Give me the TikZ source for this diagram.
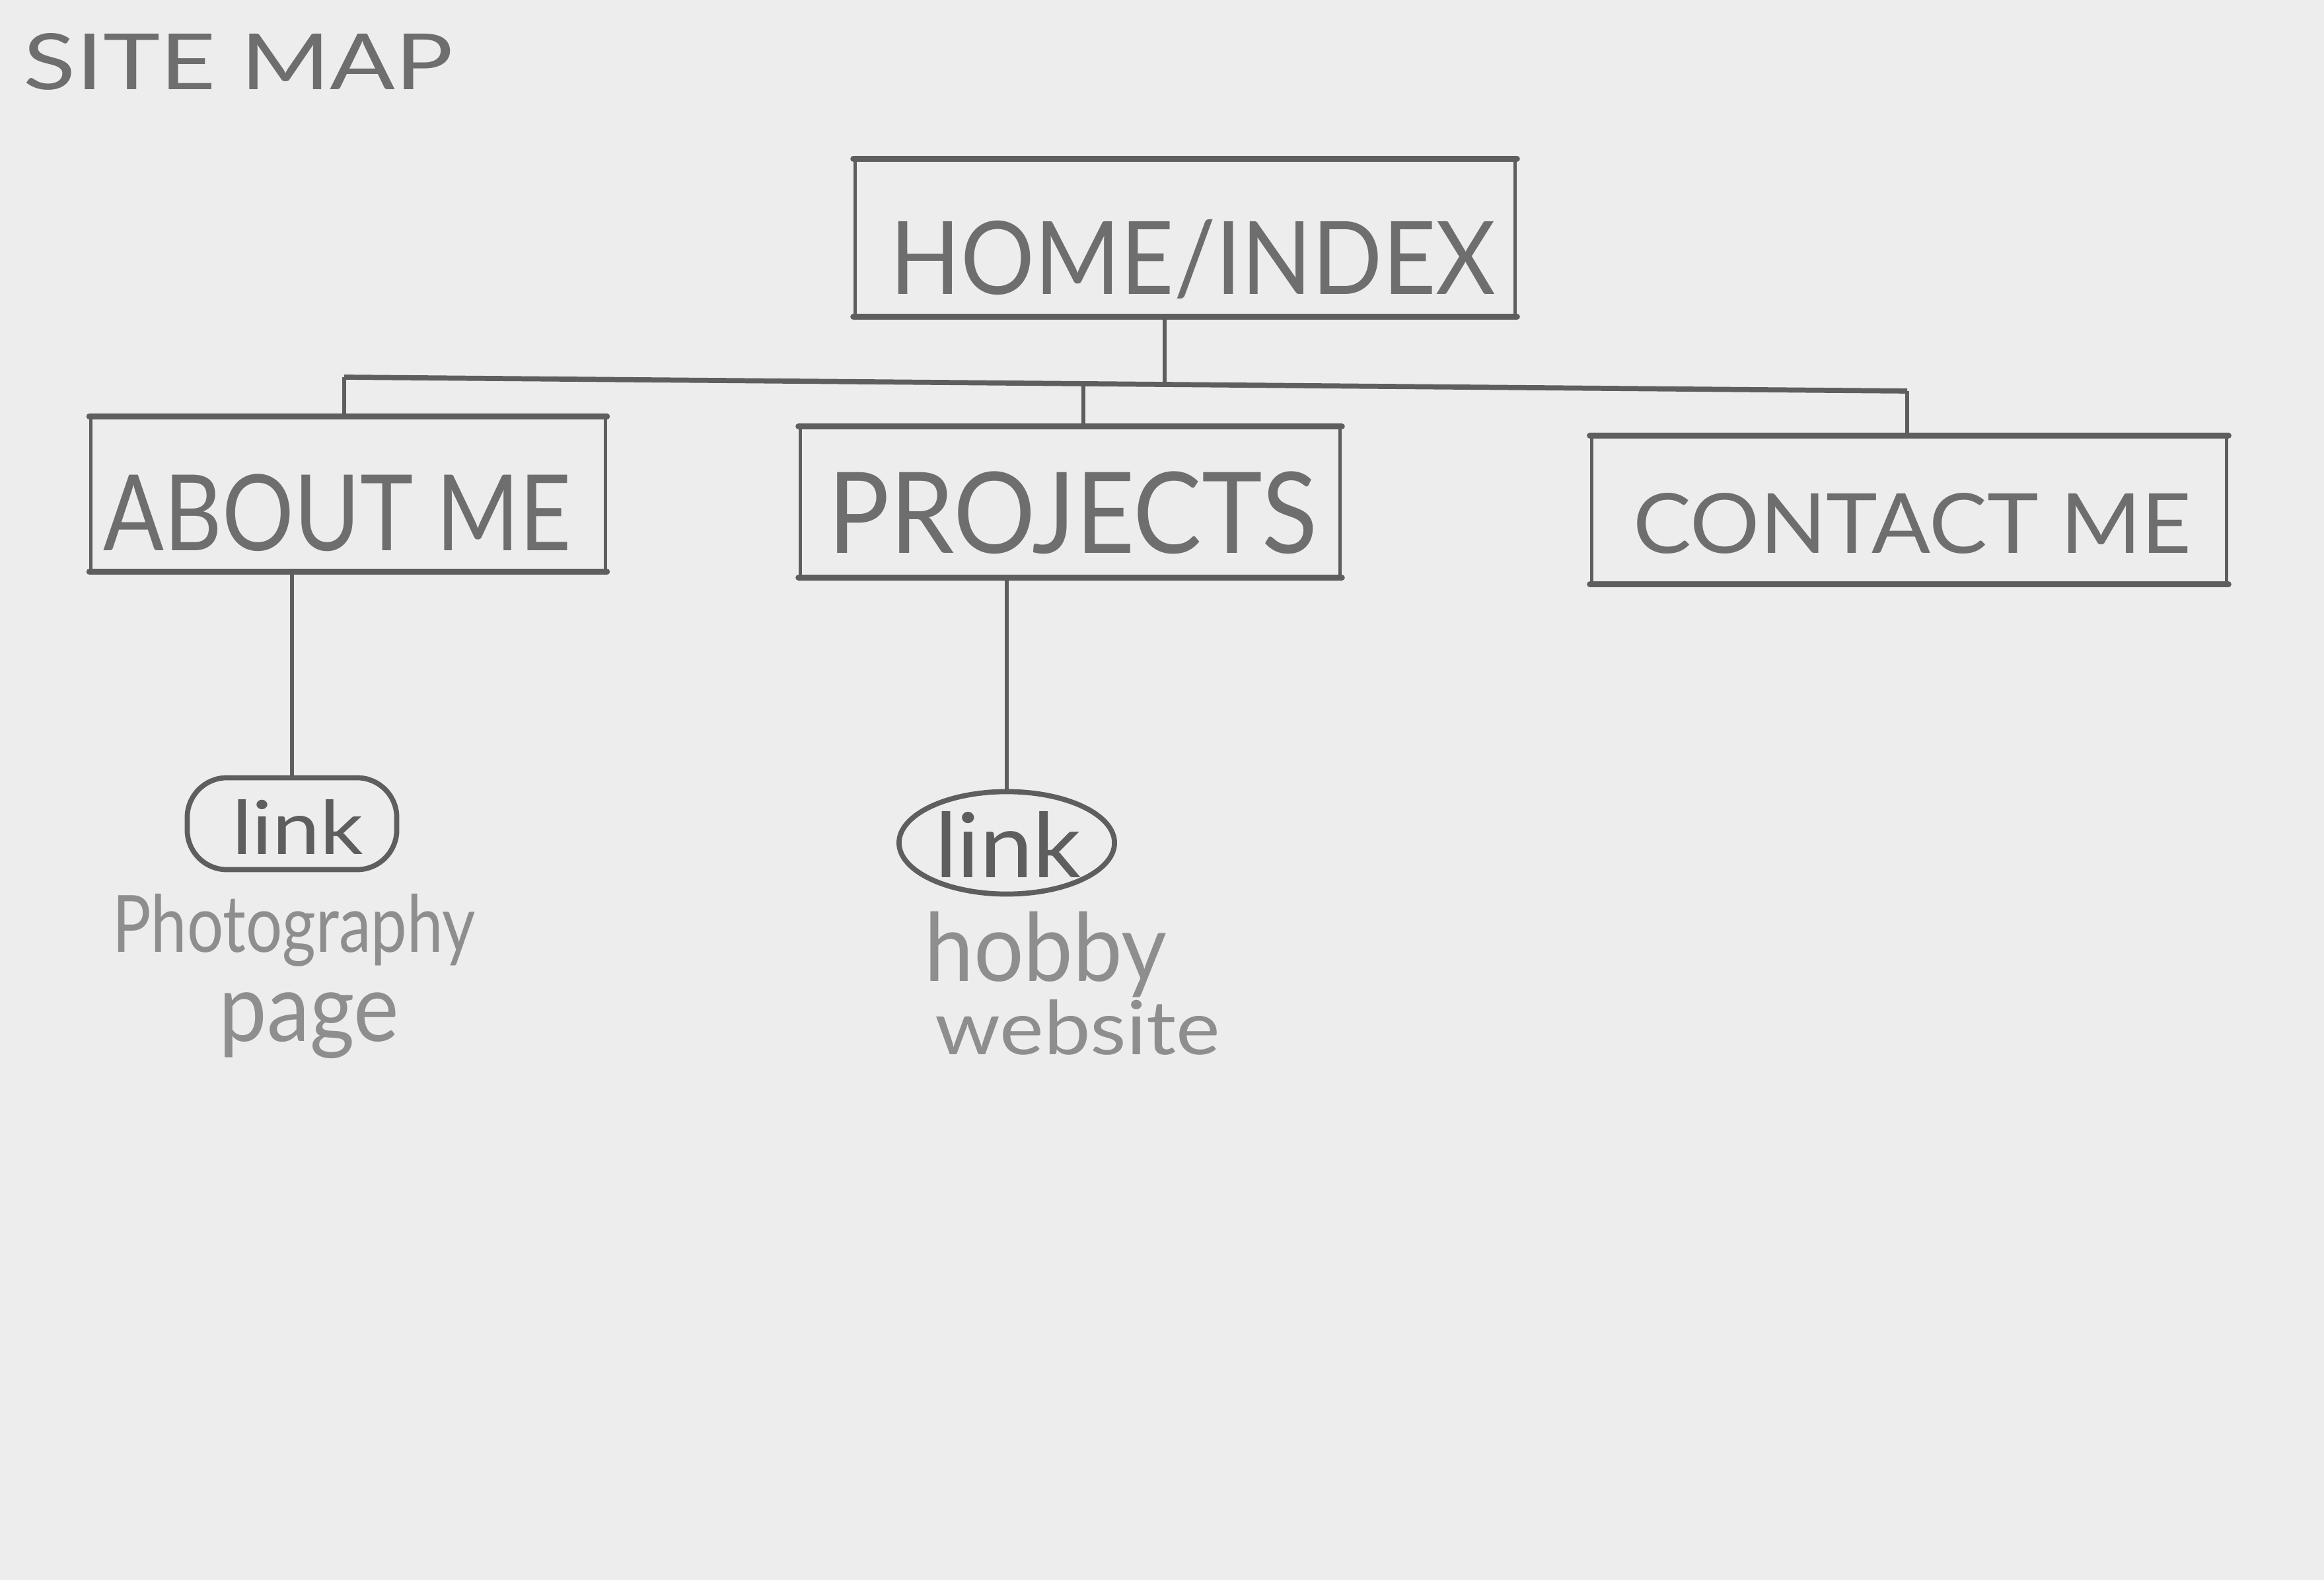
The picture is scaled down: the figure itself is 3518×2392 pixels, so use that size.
\documentclass[tikz,border=0pt]{standalone}
\usepackage{fontspec}
\usepackage{graphicx}
\usetikzlibrary{shapes.geometric}
\setmainfont{Lato}
\newlength\pxu
\setlength\pxu{0.01cm}
% text squeezed into a given width and total height (in 0.01cm units)
\newcommand\handtext[3]{\resizebox*{#1\pxu}{#2\pxu}{#3}}
\definecolor{paper}{HTML}{EDEDED}
\definecolor{pencil}{HTML}{5E5E5E}
\definecolor{pencilsoft}{HTML}{6E6E6E}
\definecolor{pencillight}{HTML}{8E8E8E}
\begin{document}
\begin{tikzpicture}[x=0.01cm,y=-0.01cm,
  pagebox/.style={draw=pencil,line width=1.4pt,rectangle,inner sep=0pt},
  hline/.style={draw=pencil,line width=2.6pt,line cap=round},
  wire/.style={draw=pencil,line width=1.5pt},
  caps/.style={inner sep=0pt,text=pencilsoft},
  note/.style={inner sep=0pt,text=pencillight},
  linkshape/.style={draw=pencil,line width=2.2pt,inner sep=0pt}]
\fill[paper] (0,0) rectangle (3518,2392);
\useasboundingbox (0,0) rectangle (3518,2392);

% title
\node[caps] (title) at (361,93) {\handtext{650}{86}{SITE MAP}};

% page boxes
\node[pagebox,minimum width=9.99cm,minimum height=2.34cm] (home) at (1794,360) {};
\node[pagebox,minimum width=7.78cm,minimum height=2.30cm] (about) at (527,748) {};
\node[pagebox,minimum width=8.17cm,minimum height=2.24cm] (proj) at (1620,760) {};
\node[pagebox,minimum width=9.61cm,minimum height=2.20cm] (contact) at (2890,772) {};
\foreach \n in {home,about,proj,contact} {
  \draw[hline] (\n.north west) -- (\n.north east);
  \draw[hline] (\n.south west) -- (\n.south east);
}

% box labels
\node[caps] (homeT) at (1806,392) {\handtext{916}{120}{HOME/INDEX}};
\node[caps] (aboutT) at (511,776) {\handtext{708}{117}{ABOUT ME}};
\node[caps] (projT) at (1624,776) {\handtext{740}{125}{PROJECTS}};
\node[caps] (contactT) at (2895,793) {\handtext{845}{92}{CONTACT ME}};

% branch bar
\coordinate (jA) at (521,571);
\coordinate (jH) at (1763,582);
\coordinate (jP) at (1640,581);
\coordinate (jC) at (2887,592);
\draw[wire] (home.south -| jH) -- (jH);
\draw[wire,line width=2.2pt] (jA) -- (jC);
\draw[wire] (jA) -- (jA |- about.north);
\draw[wire] (jP) -- (jP |- proj.north);
\draw[wire] (jC) -- (jC |- contact.north);

% link bubbles
\node[linkshape,rectangle,rounded corners=0.6cm,minimum width=3.17cm,minimum height=1.39cm] (link1) at (442,1247) {};
\node[linkshape,ellipse,minimum width=3.26cm,minimum height=1.55cm] (link2) at (1524,1276) {};
\node[caps,text=pencil] (link1T) at (451,1252) {\handtext{199}{83}{link}};
\node[caps,text=pencil] (link2T) at (1526,1278) {\handtext{222}{100}{link}};
\draw[wire] (about.south -| link1) -- (link1.north);
\draw[wire] (proj.south -| link2) -- (link2.north);

% link targets
\node[note] (photo) at (445,1408) {\handtext{549}{110}{Photography}};
\node[note] (page) at (468,1553) {\handtext{272}{100}{page}};
\node[note] (hobby) at (1583,1445) {\handtext{367}{130}{hobby}};
\node[note] (web) at (1631,1555) {\handtext{432}{84}{website}};
\end{tikzpicture}
\end{document}
